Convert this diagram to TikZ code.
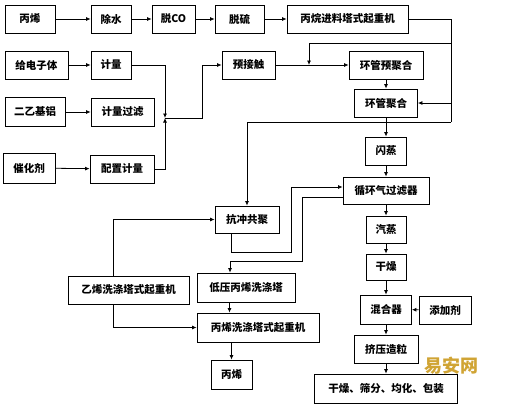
\documentclass[tikz,border=0pt]{standalone}
\usepackage{fontspec}
\newfontfamily\cjk{Noto Sans CJK SC}
\usetikzlibrary{arrows.meta}
\definecolor{wmgold}{RGB}{208,164,52}
\begin{document}
\begin{tikzpicture}[x=1pt, y=-1pt, line width=0.8pt,
  box/.style={draw, minimum height=28pt, inner sep=0pt, font=\cjk\bfseries\fontsize{10.5}{12}\selectfont},
  flow/.style={-{Latex[length=4.5pt,width=4pt]}}]
  \useasboundingbox (0,0) rectangle (512,407);
  % feed row
  \node[box, minimum width=50pt] (propin) at (30,19) {丙烯};
  \node[box, minimum width=40pt] (water) at (111,19) {除水};
  \node[box, minimum width=43pt] (deco) at (173.5,19) {脱CO};
  \node[box, minimum width=49pt] (desulf) at (239.5,19) {脱硫};
  \node[box, minimum width=121pt] (propane) at (347.5,19) {丙烷进料塔式起重机};
  % catalyst side
  \node[box, minimum width=63pt] (donor) at (36.5,65) {给电子体};
  \node[box, minimum width=40pt] (meter) at (111,65) {计量};
  \node[box, minimum width=60pt, minimum height=29pt] (teal) at (35,112) {二乙基铝};
  \node[box, minimum width=63pt] (meterf) at (122.5,112) {计量过滤};
  \node[box, minimum width=52pt, minimum height=30pt] (cat) at (29,168) {催化剂};
  \node[box, minimum width=64pt] (prep) at (122,169) {配置计量};
  \node[box, minimum width=53pt] (precon) at (248.5,65) {预接触};
  % main column
  \node[box, minimum width=74pt] (prepoly) at (386,65) {环管预聚合};
  \node[box, minimum width=63pt] (loop) at (386,103) {环管聚合};
  \node[box, minimum width=41pt] (flash) at (386,151) {闪蒸};
  \node[box, minimum width=86pt, minimum height=27pt] (cycle) at (386,190.5) {循环气过滤器};
  \node[box, minimum width=40pt, minimum height=27pt] (steam) at (386,229.5) {汽蒸};
  \node[box, minimum width=40pt, minimum height=26pt] (dry) at (386,267) {干燥};
  \node[box, minimum width=51pt, minimum height=29pt] (mix) at (386,309.5) {混合器};
  \node[box, minimum width=52pt] (add) at (445,310) {添加剂};
  \node[box, minimum width=64pt] (extr) at (386,349) {挤压造粒};
  \node[box, minimum width=143pt, minimum height=29pt] (pack) at (386,388.5) {干燥、筛分、均化、包装};
  % recovery side
  \node[box, minimum width=64pt, minimum height=27pt] (impact) at (247,219.5) {抗冲共聚};
  \node[box, minimum width=98pt, minimum height=29pt] (lpwash) at (246,287.5) {低压丙烯洗涤塔};
  \node[box, minimum width=121pt] (ethw) at (128.5,290) {乙烯洗涤塔式起重机};
  \node[box, minimum width=122pt, minimum height=29pt] (propw) at (258,327.5) {丙烯洗涤塔式起重机};
  \node[box, minimum width=41pt, minimum height=29pt] (propout) at (231.5,374.5) {丙烯};
  \node[font=\cjk\bfseries\fontsize{18}{20}\selectfont, text=wmgold] (mark) at (451,366) {易安网};
  % junctions
  \coordinate (jtop) at (451,43);
  \coordinate (jloop) at (451,103);
  \coordinate (jbot) at (451,122);
  \coordinate (jpre) at (309,65);
  \coordinate (valve) at (165,118);
  \coordinate (vbend) at (202,118);
  \coordinate (wline) at (229.5,0);
  % connectors
  \draw[flow] (propin) -- (water);
  \draw[flow] (water) -- (deco);
  \draw[flow] (deco) -- (desulf);
  \draw[flow] (desulf) -- (propane);
  \draw (propane.east) -| (jbot);
  \draw[flow] (jbot) -| (impact.north);
  \draw[flow] (jtop) -| (jpre);
  \draw[flow] (jloop) -- (loop.east);
  \draw[flow] (donor) -- (meter);
  \draw[flow] (teal) -- (meterf);
  \draw[flow] (cat) -- (prep);
  \draw[flow] (meter.east) -| (valve);
  \draw[flow] (prep.east) -| (valve);
  \draw[flow] (valve) -- (vbend) |- (precon.west);
  \draw[flow] (precon) -- (prepoly);
  \draw[flow] (prepoly) -- (loop);
  \draw[flow] (loop) -- (flash);
  \draw[flow] (flash) -- (cycle);
  \draw[flow] (cycle) -- (steam);
  \draw[flow] (steam) -- (dry);
  \draw[flow] (dry) -- (mix);
  \draw[flow] (add) -- (mix);
  \draw[flow] (mix) -- (extr);
  \draw[flow] (extr) -- (pack);
  \draw[flow] ([xshift=-16pt]impact.south) |- (291,252) |- ([yshift=3.5pt]cycle.west);
  \draw[flow] ([yshift=-6.5pt]cycle.west) -| (302,261) -| ([xshift=-16pt]lpwash.north);
  \draw[flow] ([xshift=-15.5pt]ethw.north) |- (impact.west);
  \draw[flow] ([xshift=-15.5pt]ethw.south) |- (propw.west);
  \draw[flow] (lpwash.south -| wline) -- (propw.north -| wline);
  \draw[flow] (propw.south -| propout.north) -- (propout.north);
\end{tikzpicture}
\end{document}
